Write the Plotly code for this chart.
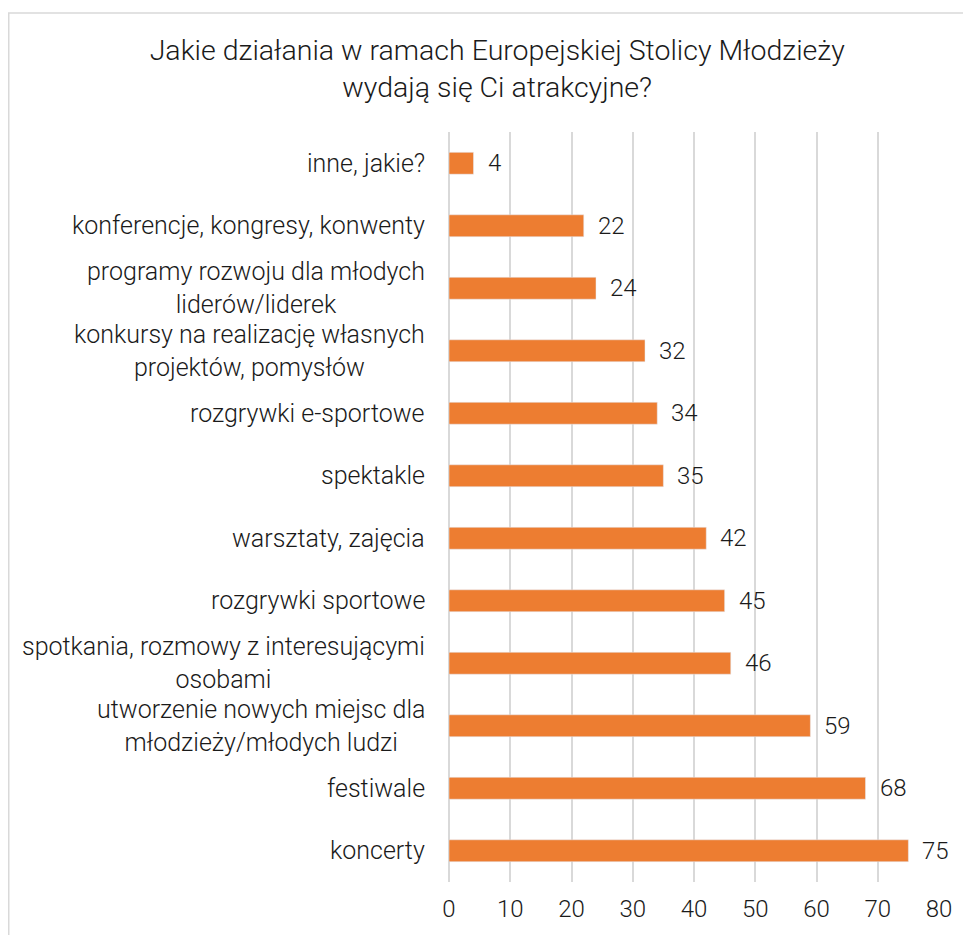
import plotly.graph_objects as go

categories = [
    "koncerty",
    "festiwale",
    "utworzenie nowych miejsc dla<br>młodzieży/młodych ludzi",
    "spotkania, rozmowy z interesującymi<br>osobami",
    "rozgrywki sportowe",
    "warsztaty, zajęcia",
    "spektakle",
    "rozgrywki e-sportowe",
    "konkursy na realizację własnych<br>projektów, pomysłów",
    "programy rozwoju dla młodych<br>liderów/liderek",
    "konferencje, kongresy, konwenty",
    "inne, jakie?",
]
values = [75, 68, 59, 46, 45, 42, 35, 34, 32, 24, 22, 4]
x_ticks = [0, 10, 20, 30, 40, 50, 60, 70, 80]

FONT = "Roboto"
TXT = "#1a1a1a"
LAB = dict(family=FONT, size=25, color=TXT, weight=300)
NUM = dict(family=FONT, size=24, color=TXT, weight=300)

fig = go.Figure()
fig.add_trace(go.Bar(
    y=list(range(len(categories))),
    x=values,
    orientation="h",
    marker=dict(color="#ED7D31"),
    cliponaxis=False,
    width=0.35,
))

for i, (c, v) in enumerate(zip(categories, values)):
    fig.add_annotation(
        x=0, xref="paper", y=i, yref="y",
        text=c, showarrow=False, xanchor="right", yanchor="middle",
        align="center", xshift=-22,
        font=LAB,
    )
    fig.add_annotation(
        x=v, xref="x", y=i, yref="y",
        text=str(v), showarrow=False, xanchor="left", yanchor="middle",
        xshift=12, font=NUM,
    )

fig.add_shape(type="rect", xref="paper", yref="paper",
              x0=-0.8985, x1=1.08, y0=-0.09, y1=1.1587,
              line=dict(color="#D9D9D9", width=1.5), fillcolor="rgba(0,0,0,0)")

fig.update_layout(
    width=963, height=927,
    margin=dict(l=441, r=32, t=124, b=53),
    paper_bgcolor="white", plot_bgcolor="white",
    showlegend=False,
    title=dict(
        text="Jakie działania w ramach Europejskiej Stolicy Młodzieży<br>wydają się Ci atrakcyjne?",
        x=0.508, xanchor="center", xref="container", y=0.944, yanchor="middle",
        font=dict(family=FONT, size=28.5, color=TXT, weight=300),
    ),
    font=dict(family=FONT, color=TXT),
)
fig.update_xaxes(
    range=[0, 80], tickvals=x_ticks, showgrid=True, gridcolor="#D9D9D9", gridwidth=1.5,
    zeroline=True, zerolinecolor="#D9D9D9", zerolinewidth=1.5,
    tickfont=NUM, ticks="", ticklabelstandoff=10,
    showline=False,
)
fig.update_yaxes(
    range=[-0.5, len(categories) - 0.5], showticklabels=False, showgrid=False,
    zeroline=False, showline=False,
)

fig.write_html("out.html")
